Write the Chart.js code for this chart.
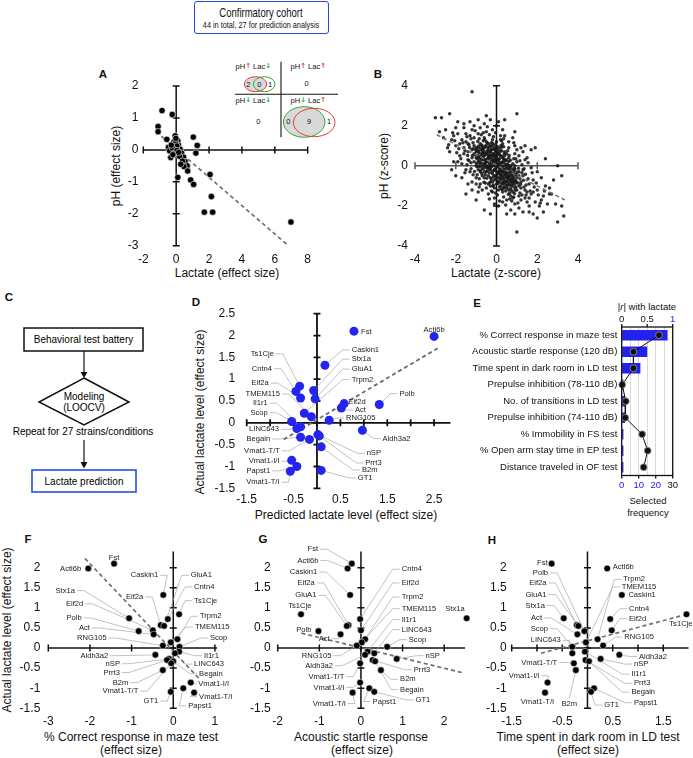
<!DOCTYPE html>
<html><head><meta charset="utf-8">
<script src="https://cdn.jsdelivr.net/npm/chart.js@4.4.1/dist/chart.umd.min.js"></script>
<style>
body{margin:0;background:#fff;width:693px;height:758px;position:relative;overflow:hidden;font-family:"Liberation Sans",Arial,sans-serif;color:#111}
canvas{position:absolute}
.t{position:absolute;white-space:nowrap;line-height:1;transform:translate(-50%,-50%);font-size:12px}
.r{transform:translate(-50%,-50%) rotate(-90deg)}
.P{font-weight:bold;font-size:11.5px}
.s{font-size:9.5px}
svg{position:absolute}
svg text{font-family:"Liberation Sans",Arial,sans-serif;text-anchor:middle;dominant-baseline:central}
svg tspan.ar{font-weight:bold;font-family:"DejaVu Sans",sans-serif;font-size:7px}
</style></head><body>

<!-- title box -->
<div style="position:absolute;left:194px;top:1px;width:133px;height:31px;border:1.6px solid #2b45e0;border-radius:3px;"></div>
<div class="t" style="left:261px;top:12px;font-size:13px;transform:translate(-50%,-50%) scaleX(0.73)">Confirmatory cohort</div>
<div class="t" style="left:261px;top:25px;font-size:9px;transform:translate(-50%,-50%) scaleX(0.81)">44 in total, 27 for prediction analysis</div>

<!-- panel letters -->
<div class="t P" style="left:103px;top:75px">A</div>
<div class="t P" style="left:378px;top:75px">B</div>
<div class="t P" style="left:9px;top:298px">C</div>
<div class="t P" style="left:196px;top:303px">D</div>
<div class="t P" style="left:477px;top:304px">E</div>
<div class="t P" style="left:28px;top:540px">F</div>
<div class="t P" style="left:263px;top:540px">G</div>
<div class="t P" style="left:492px;top:541px">H</div>

<!-- axis titles -->
<div class="t" style="left:227px;top:273px">Lactate (effect size)</div>
<div class="t r" style="left:116px;top:166px">pH (effect size)</div>
<div class="t" style="left:496px;top:273px">Lactate (z-score)</div>
<div class="t r" style="left:384px;top:166px">pH (z-score)</div>
<div class="t" style="left:346px;top:515px">Predicted lactate level (effect size)</div>
<div class="t r" style="left:200px;top:412px">Actual lactate level (effect size)</div>
<div class="t s" style="left:647px;top:307px">|<i>r</i>| with lactate</div>
<div class="t s" style="left:648px;top:501px">Selected</div>
<div class="t s" style="left:648px;top:512.5px">frequency</div>
<div class="t r" style="left:7px;top:630px">Actual lactate level (effect size)</div>
<div class="t" style="left:131px;top:737px">% Correct response in maze test</div>
<div class="t" style="left:131px;top:750px">(effect size)</div>
<div class="t" style="left:361px;top:737px">Acoustic startle response</div>
<div class="t" style="left:362px;top:750px">(effect size)</div>
<div class="t" style="left:588px;top:737px">Time spent in dark room in LD test</div>
<div class="t" style="left:588px;top:750px">(effect size)</div>

<!-- flowchart C -->
<svg style="left:0;top:290px" width="190" height="210">
  <rect x="24" y="38" width="119" height="23" fill="none" stroke="#111" stroke-width="1.5"/>
  <text x="83.5" y="49.5" font-size="10">Behavioral test battery</text>
  <line x1="84" y1="61" x2="84" y2="83" stroke="#111" stroke-width="1.2"/>
  <polygon points="80.5,82 87.5,82 84,88" fill="#111"/>
  <polygon points="84,88 129,112 84,135 39,112" fill="none" stroke="#111" stroke-width="1.5"/>
  <text x="84" y="106" font-size="10">Modeling</text>
  <text x="84" y="117" font-size="10">(LOOCV)</text>
  <text x="83" y="141" font-size="10">Repeat for 27 strains/conditions</text>
  <line x1="84" y1="150" x2="84" y2="173" stroke="#111" stroke-width="1.2"/>
  <polygon points="80.5,172 87.5,172 84,178.5" fill="#111"/>
  <rect x="32" y="180" width="104" height="22" fill="none" stroke="#2a4de0" stroke-width="1.6"/>
  <text x="84" y="191" font-size="10">Lactate prediction</text>
</svg>

<!-- inset of A -->
<svg style="left:230px;top:58px" width="112" height="84">
  <ellipse cx="25.5" cy="26.2" rx="11.2" ry="7.5" fill="#d9d9d9" stroke="#e53935" stroke-width="1"/>
  <ellipse cx="34.2" cy="26.2" rx="10.8" ry="7.5" fill="none" stroke="#2eaa3a" stroke-width="1"/>
  <ellipse cx="74.2" cy="64" rx="20.8" ry="15.3" fill="#d9d9d9" stroke="#2eaa3a" stroke-width="1"/>
  <ellipse cx="84.2" cy="64.5" rx="20.8" ry="14.2" fill="none" stroke="#e53935" stroke-width="1"/>
  <line x1="51" y1="3.7" x2="51" y2="79.3" stroke="#111" stroke-width="1.1"/>
  <line x1="5" y1="36.3" x2="108" y2="36.3" stroke="#111" stroke-width="1.1"/>
  <g font-size="7.5" fill="#111">
    <text x="23.3" y="8">pH<tspan class="ar" fill="#e53935">↑</tspan> Lac<tspan class="ar" fill="#2eaa3a">↓</tspan></text>
    <text x="78.3" y="8">pH<tspan class="ar" fill="#e53935">↑</tspan> Lac<tspan class="ar" fill="#e53935">↑</tspan></text>
    <text x="76.7" y="25.3">0</text>
    <text x="23.3" y="42">pH<tspan class="ar" fill="#2eaa3a">↓</tspan> Lac<tspan class="ar" fill="#2eaa3a">↓</tspan></text>
    <text x="78.3" y="42">pH<tspan class="ar" fill="#2eaa3a">↓</tspan> Lac<tspan class="ar" fill="#e53935">↑</tspan></text>
    <text x="28.3" y="63">0</text>
    <text x="18.3" y="26.2">2</text><text x="29.3" y="26.2">0</text><text x="40" y="26.2">1</text>
    <text x="58.3" y="63.5">0</text><text x="79" y="63.5">9</text><text x="99" y="63.5">1</text>
  </g>
</svg>

<script>
// ---------------- DATA ----------------
// Panel A: pH vs lactate effect sizes
const aLactate = [-0.86,-0.24,-1.10,-1.10,-0.57,-0.06,-0.14,0.10,-0.47,-0.40,-0.33,0.14,0.24,0.33,0.45,0.55,0.67,0.47,0.70,0.10,0.88,1.06,1.04,1.28,1.20,2.06,2.14,1.71,2.22,6.98,-0.04,0.04,-0.22,0.20,0.38,-0.10,0.05,-0.30,0.28,-0.02,0.15,-0.20];
const aPH      = [1.23,1.11,0.73,0.57,0.33,0.44,0.25,0.28,0.08,-0.03,-0.24,0.15,0.02,-0.10,-0.23,-0.37,-0.50,-0.52,-0.66,-0.86,-0.94,-1.08,0.40,0.14,-0.10,-0.77,-1.46,-1.95,-1.95,-2.26,0.22,0.12,0.05,-0.20,-0.35,-0.10,-0.02,0.15,-0.45,0.36,-0.08,-0.15];
const aFitX = [-1.22, 6.78], aFitY = [0.57, -2.98];

// Panel B: individual z-scores (lactate, pH)
const bPoints = [
[-0.1,0.3],[0.2,-0.1],[-0.4,0.5],[0.5,-0.3],[0.0,0.0],[-0.7,0.6],[0.8,-0.6],[0.3,0.4],[-0.2,-0.4],[0.6,0.2],
[-0.5,-0.1],[0.1,0.8],[-0.9,0.2],[0.9,-0.2],[0.4,-0.8],[-0.3,1.0],[0.2,-1.0],[-0.6,0.9],[0.7,-1.1],[-1.0,0.7],
[1.1,-0.5],[-0.1,-0.7],[0.0,1.2],[-0.8,-0.3],[0.5,0.6],[-0.4,-0.9],[0.3,1.1],[-1.1,1.0],[1.0,-1.2],[0.1,0.1],
[-0.2,0.6],[0.4,0.0],[-0.6,0.1],[0.6,-0.5],[-0.3,-0.2],[0.2,0.5],[-0.5,0.3],[0.8,0.1],[-0.7,-0.5],[0.0,-0.3],
[0.3,-0.5],[-0.1,0.9],[0.5,-1.0],[-0.8,1.1],[0.9,-0.9],[-0.4,0.2],[0.1,-0.6],[-0.9,0.5],[0.7,-0.3],[-0.2,1.3],
[0.4,0.7],[-0.6,-0.6],[0.6,0.4],[-1.2,0.4],[1.2,-0.8],[0.0,0.5],[-0.3,0.7],[0.2,-0.3],[-0.7,0.3],[0.8,-0.8],
[-0.1,-1.1],[0.5,-0.6],[-0.5,1.2],[0.3,-1.3],[-1.0,0.0],[1.0,0.2],[-0.4,-0.5],[0.1,0.3],[-0.2,0.0],[0.6,-0.9],
[-0.8,0.8],[0.9,-0.4],[-0.3,0.4],[0.4,-0.2],[0.0,-0.9],[-0.6,0.5],[0.7,-0.7],[-0.1,0.2],[0.2,0.9],[-0.9,-0.2],
[1.1,-1.0],[-1.1,0.6],[0.3,0.2],[-0.4,0.8],[0.5,-0.1],[-0.2,-0.8],[0.8,-1.3],[-0.7,1.0],[0.1,-0.4],[-0.5,-0.3],
[0.0,0.7],[0.6,-1.2],[-0.3,-0.6],[0.4,0.5],[-0.8,0.0],[0.9,-0.7],[-1.0,0.9],[0.2,-0.7],[-0.1,0.5],[0.3,-0.9],
[-0.6,0.7],[0.7,0.0],[-0.4,0.0],[0.5,0.3],[-0.2,1.0],[0.1,-1.2],[-0.9,0.9],[1.0,-0.6],[-0.5,0.6],[0.6,-0.2],
[-0.3,0.1],[0.4,-1.1],[0.0,0.3],[-0.7,-0.1],[0.8,-0.4],[-0.1,-0.2],[0.2,0.1],[-1.2,0.8],[1.2,-1.1],[-0.4,1.1],
[0.3,-0.1],[-0.8,0.4],[0.9,-1.1],[0.0,-0.5],[-0.6,-0.3],[0.7,-0.5],[-0.2,0.8],[0.5,-0.8],[-1.0,0.4],[0.1,0.6],
[-0.5,0.0],[0.6,0.0],[-0.3,-1.0],[0.4,0.3],[-0.7,0.8],[0.8,-1.0],[-0.1,0.0],[0.2,-0.5],[-0.9,0.7],[1.1,-0.3],
[-0.4,0.4],[0.3,-0.6],[0.0,0.9],[-0.6,0.3],[0.5,-0.4],[-0.2,-0.3],[0.9,0.0],[-1.1,0.2],[0.1,-0.8],[-0.3,0.5],
[-1.5,1.2],[1.5,-1.3],[-1.3,1.5],[1.4,-1.6],[-1.6,0.9],[1.6,-0.9],[-1.4,0.3],[1.3,-0.2],[-1.2,1.8],[1.2,-1.7],
[-0.9,1.6],[0.8,-1.6],[-0.5,1.7],[0.5,-1.7],[-0.2,1.8],[0.3,-1.8],[0.2,1.5],[-0.1,-1.6],[0.6,1.2],[-0.7,-1.2],
[0.9,0.6],[-1.0,-0.6],[1.3,-0.5],[-1.4,0.7],[1.7,-1.4],[-1.7,1.3],[1.8,-0.7],[-1.8,0.5],[1.4,0.3],[-1.3,-0.3],
[-2.0,1.0],[2.0,-1.2],[-1.9,1.6],[1.9,-1.8],[-1.6,1.9],[1.6,-2.0],[-1.1,2.0],[1.1,-2.1],[-0.6,2.1],[0.7,-2.2],
[0.0,2.0],[0.1,-2.0],[-2.2,1.3],[2.3,-1.5],[-2.3,0.7],[2.2,-0.6],[-2.1,0.2],[2.1,-2.0],[-1.5,-0.2],[1.5,0.4],
[-0.8,-0.9],[0.9,1.0],[-1.2,-0.8],[1.0,0.8],[-0.4,-1.4],[0.4,1.5],[-0.9,-1.3],[0.3,1.8],[-1.7,0.1],[1.7,-0.1],
[-1.3,2.2],[1.3,-2.3],[-2.5,1.8],[2.5,-1.9],[-2.4,0.9],[2.4,-1.0],[-1.9,2.2],[1.8,-2.4],[-0.3,2.3],[0.5,-2.4],
[-1.6,0.6],[1.6,-1.6],[-1.4,1.1],[1.4,-1.2],[-1.8,1.1],[1.8,-1.3],[-1.5,1.6],[1.5,-1.8],[-1.1,1.4],[1.1,-1.5],
[-0.8,1.9],[0.9,-1.9],[-0.5,-1.1],[0.6,0.9],[-1.0,-0.9],[1.1,0.5],[-0.2,-1.3],[0.2,1.3],[-0.6,1.4],[0.7,-1.5],
[-2.6,1.4],[2.6,-1.4],[-2.0,1.9],[2.0,-0.3],[-2.2,-0.2],[2.3,-2.3],[-1.7,-0.6],[1.2,0.9],[-1.2,-1.2],[0.8,1.4],
[-0.1,-1.9],[0.1,2.2],[-1.4,-0.9],[1.3,0.7],[-2.1,1.5],[2.2,-1.7],[-0.9,2.3],[0.9,-2.4],[-1.6,2.1],[1.6,-2.3],
[-1.2,3.7],[1.0,2.6],[-2.7,2.4],[-2.3,2.6],[1.9,0.9],[2.4,0.35],[3.0,0.0],[3.2,-0.5],[2.6,-1.1],[2.7,-1.4],
[3.2,-2.0],[3.3,-2.5],[3.0,-2.8],[1.0,-3.3],[-0.3,-2.4],[-1.9,0.2],[-3.0,2.4],[-2.8,1.7],[-0.5,2.5],[0.4,2.3],
[2.9,-1.9],[2.0,-2.6],[-1.0,-1.7],[-0.6,-2.2],[1.4,1.0],[0.9,1.7],[-2.0,-0.5],[2.8,-0.7],[-1.5,-1.4],[1.7,0.8],
[-0.15,0.45],[0.25,-0.25],[-0.35,0.15],[0.45,-0.45],[-0.05,-0.15],[0.35,0.15],[-0.45,0.65],[0.55,-0.65],[-0.65,0.45],[0.65,-0.35],
[-0.25,-0.05],[0.15,0.35],[-0.75,0.15],[0.75,-0.15],[-0.55,-0.45],[0.05,0.65],[-0.85,0.65],[0.85,-0.55],[-0.35,0.95],[0.25,-0.85],
[-0.05,0.35],[0.15,-0.15],[-0.25,0.25],[0.35,-0.35],[-0.45,-0.25],[0.45,0.25],[-0.65,0.85],[0.55,-0.95],[-0.15,-0.55],[0.05,-0.05],
[-0.95,0.35],[0.95,-0.45],[-0.55,0.55],[0.65,-0.75],[-0.35,-0.35],[0.25,0.75],[-0.75,1.05],[0.75,-0.95],[-0.05,1.05],[0.15,-1.05],
[-1.05,0.55],[1.05,-0.85],[-0.15,0.15],[0.35,-0.65],[-0.45,0.35],[0.45,-0.15],[-0.25,0.85],[0.25,0.15],[-0.65,-0.15],[0.55,0.05],
[-0.85,0.25],[0.85,-0.25],[-0.35,0.55],[0.05,-0.35],[-0.05,0.75],[0.35,-1.05],[-1.15,0.85],[1.15,-0.65],[-0.55,0.95],[0.65,-0.05],
[-0.25,-0.65],[0.15,0.55],[-0.75,0.55],[0.75,-0.65],[-0.45,1.15],[0.45,-1.25],[-0.95,-0.05],[0.95,-1.05],[-0.15,-0.95],[0.05,0.95],
[-0.35,-0.85],[0.35,0.95],[-0.65,1.25],[0.65,-1.35],[-1.25,0.15],[1.25,-0.35],[-0.05,-1.35],[0.25,1.25],[-0.85,-0.65],[0.85,0.35],
[-0.12,0.62],[0.22,-0.42],[-0.48,0.22],[0.52,-0.22],[-0.02,0.18],[0.38,-0.72],[-0.68,0.72],[0.72,-0.82],[-0.32,-0.12],[0.12,0.22],
[-0.88,0.42],[0.88,-0.12],[-0.58,-0.02],[0.58,-0.52],[-0.22,0.32],[0.28,0.48],[-0.42,0.92],[0.42,-0.92],[-0.78,-0.22],[0.18,-0.62],
[-1.02,0.82],[1.02,-0.32],[-0.08,-0.48],[0.32,-0.28],[-0.62,0.62],[0.62,-0.62],[-0.18,1.12],[0.08,-0.88],[-0.92,1.22],[0.92,-1.22],
[-0.38,0.38],[0.48,0.08],[-0.72,-0.38],[0.02,0.42],[-0.28,-0.78],[0.68,0.28],[-1.18,0.52],[1.18,-0.92],[-0.52,1.02],[0.52,-1.12],
[-0.02,-0.62],[0.38,0.62],[-0.82,0.12],[0.82,-0.72],[-0.48,-0.62],[0.22,1.02],[-0.12,-0.22],[0.12,-0.32],[-0.62,0.32],[0.42,-0.42],
[-1.32,0.92],[1.32,-0.72],[-0.98,0.12],[0.98,-0.82],[-0.22,0.52],[0.28,-1.18],[-0.58,1.32],[0.58,-1.42],[-0.08,0.82],[0.08,0.02],
[-0.42,-0.08],[0.62,-0.12],[-0.72,0.92],[0.72,-1.22],[-0.32,0.72],[0.32,-0.82],[-1.08,-0.28],[1.08,-0.12],[-0.18,-1.02],[0.18,0.72],
[-0.88,0.98],[0.88,-1.38],[-0.52,0.18],[0.52,-0.78],[-0.28,0.02],[0.28,-0.02],[-0.62,-0.82],[0.62,0.52],[-1.42,0.52],[1.42,-0.42],
[-0.05,0.55],[0.05,-0.75],[-0.45,0.75],[0.45,-0.55],[-0.75,0.35],[0.75,-0.45],[-0.25,1.15],[0.25,-1.15],[-0.95,0.75],[0.95,-0.75],
[-0.15,0.25],[0.15,-0.25],[-0.55,0.15],[0.55,-0.35],[-0.35,-0.15],[0.35,0.35],[-0.65,0.05],[0.65,-0.95],[-0.85,-0.05],[0.85,-0.85],
[-1.35,1.05],[1.35,-1.05],[-1.25,1.35],[1.25,-1.45],[-1.55,0.75],[1.55,-0.65],[-1.45,1.45],[1.45,-1.45],[-1.15,-0.45],[1.15,0.25],
[-0.75,1.55],[0.75,-1.75],[-0.35,1.55],[0.35,-1.55],[-0.05,1.65],[0.05,-1.45],[-1.65,1.15],[1.65,-1.25],[-1.85,0.85],[1.85,-1.05],
[-0.55,-0.85],[0.55,0.75],[-0.95,-0.45],[0.95,0.35],[-0.25,-1.25],[0.25,0.95],[-1.25,-0.15],[1.25,0.05],[-0.65,1.65],[0.65,-1.65],
[-1.75,0.35],[1.75,-0.35],[-2.05,1.25],[2.05,-1.45],[-1.95,0.65],[1.95,-0.85],[-1.05,1.75],[1.05,-1.85],[-0.45,1.95],[0.45,-1.95],
[-1.55,-0.35],[1.55,0.15],[-0.85,-1.05],[0.85,1.15],[-1.35,0.25],[1.35,-0.15],[-0.15,1.45],[0.15,-1.75],[-1.15,1.15],[1.15,-1.35],
[-2.35,1.05],[2.35,-1.25],[-2.15,1.65],[2.15,-1.85],[-0.85,1.35],[0.85,-1.55],[-1.45,0.05],[1.45,-0.95],[-0.35,-1.65],[0.35,1.35]
];
const bFitX = [-2.93, 3.35], bFitY = [1.55, -1.70];

// Panels D, F, G, H: the 27 strains/conditions
const strains = ['Fst','Actl6b','Caskin1','Ts1Cje','Stx1a','Cntn4','Eif2a','GluA1','Eif2d','Polb','Act','Trpm2','TMEM115','RNG105','Scop','Il1r1','LINC643','Aldh3a2','nSP','Prrt3','Begain','Vmat1-T/T','B2m','Vmat1-I/I','Papst1','GT1','Vmat1-T/I'];
const actualLactate    = [2.10,1.98,1.32,0.84,0.74,0.72,0.57,0.55,0.44,0.42,0.34,0.22,0.14,0.06,0.03,-0.09,-0.13,-0.17,-0.27,-0.30,-0.33,-0.38,-0.55,-0.86,-1.00,-1.09,-1.11];
const predictedLactate = [0.79,2.50,0.17,-0.37,-0.07,-0.45,-0.35,-0.04,0.58,1.33,0.52,-0.27,-0.12,0.26,-0.54,-0.35,-0.43,0.97,0.02,0.05,-0.35,-0.16,0.09,-0.54,-0.43,0.09,-0.57];
const mazeEffect       = [-1.42,-2.04,-0.24,0.14,-1.06,-0.13,-0.30,-0.22,-0.49,-0.83,-0.47,0.10,-0.06,-0.25,0.15,0.14,0.04,-0.43,-0.10,-0.15,0.00,-0.05,-0.25,0.42,0.24,-0.06,0.50];
const startleEffect    = [-0.22,-0.32,-0.26,-1.44,2.54,-0.02,-0.30,-0.34,0.00,-1.02,-0.49,0.10,0.02,-0.10,0.63,0.16,0.32,0.10,0.86,0.28,0.34,-0.02,0.48,-0.02,0.20,0.32,-0.20];
const darkRoomEffect   = [-0.71,0.39,0.68,1.96,-0.47,0.45,-0.21,-0.18,0.48,-0.06,-0.20,0.20,-0.03,0.31,-0.30,-0.05,-0.30,0.63,0.26,-0.04,0.03,-0.27,-0.23,-0.79,0.13,0.07,-0.84];
const dFitX = [-0.71, 2.61], dFitY = [-0.38, 1.73];
const fFitX = [-2.12, 0.64], fFitY = [2.23, -0.78];
const gFitX = [-1.43, 2.42], gFitY = [0.37, -0.61];
const hFitX = [-0.92, 2.00], hFitY = [-0.13, 0.85];

// Panel E
const eFeatures = ['% Correct response in maze test','Acoustic startle response (120 dB)','Time spent in dark room in LD test','Prepulse inhibition (78-110 dB)','No. of transitions in LD test','Prepulse inhibition (74-110 dB)','% Immobility in FS test','% Open arm stay time in EP test','Distance traveled in OF test'];
const eSelectedFreq = [27,15,11,1,2,2,1,1,1];
const eAbsR = [0.73,0.23,0.23,0.01,0.08,0.07,0.40,0.51,0.43];

// tick values
const aXTicks=[-2,0,2,4,6,8], aYTicks=[-3,-2,-1,0,1,2];
const bXTicks=[-4,-2,0,2,4], bYTicks=[-4,-2,0,2,4];
const dXTicks=[-1.5,-1,-0.5,0,0.5,1,1.5,2,2.5], dYTicks=[-1.5,-1,-0.5,0,0.5,1,1.5,2,2.5];
const fXTicks=[-3,-2,-1,0,1], gXTicks=[-2,-1,0,1,2], hXTicks=[-1.5,-1,-0.5,0,0.5,1,1.5];
const lacYTicks=[-1.5,-1,-0.5,0,0.5,1,1.5,2];

// ---------------- label placement (layout, in data units) ----------------
const dLab = {x:[0.94,2.50,0.74,-0.92,0.74,-0.96,-1.03,0.74,0.67,1.76,0.81,0.74,-0.79,0.62,-1.05,-1.05,-0.81,1.40,1.06,1.03,-1.00,-0.79,0.96,-0.80,-1.00,0.87,-0.80],
 y:[2.09,2.12,1.67,1.58,1.46,1.24,0.91,1.23,0.47,0.67,0.29,0.99,0.66,0.11,0.23,0.45,-0.15,-0.36,-0.70,-0.92,-0.37,-0.64,-1.08,-0.88,-1.10,-1.26,-1.36],
 t:['E','C','L','R','L','R','R','L','E','L','L','L','R','L','R','R','R','L','L','L','R','R','L','R','R','L','R']};
const fLab = {x:[-1.42,-2.21,-0.36,0.50,-2.36,0.50,-0.72,0.42,-2.16,-2.20,-2.00,0.64,0.52,-1.60,0.88,0.74,0.50,-1.56,-1.28,-1.28,0.62,-0.84,-1.08,0.60,0.36,-0.36,0.62],
 y:[2.25,1.96,1.81,1.18,1.43,1.52,1.27,1.81,1.10,0.75,0.50,0.79,0.52,0.25,0.25,-0.19,-0.40,-0.19,-0.39,-0.61,-0.64,-1.07,-0.86,-0.89,-1.44,-1.32,-1.21],
 t:['C','W','R','L','R','L','R','L','R','R','R','L','L','R','L','L','L','R','R','R','L','R','R','L','L','R','L']};
const gLab = {x:[-1.03,-1.02,-1.05,-1.47,2.26,0.98,-1.11,-1.07,0.98,-1.19,-0.75,0.98,0.98,-0.71,1.15,0.98,0.98,-0.67,1.55,1.27,0.94,-0.40,0.94,-0.40,0.28,1.31,-0.36],
 y:[2.46,2.18,1.89,1.06,0.97,1.96,1.62,1.31,1.62,0.46,0.23,1.27,0.98,-0.19,0.21,0.71,0.46,-0.44,-0.19,-0.54,-1.03,-0.71,-0.78,-0.98,-1.33,-1.29,-1.38],
 t:['R','R','R','C','C','L','R','R','L','W','R','L','L','R','L','L','L','R','L','L','L','R','L','R','L','L','R']};
const hLab = {x:[-0.79,0.50,0.81,1.85,-0.84,0.82,-0.81,-0.81,0.82,-0.78,-0.90,0.71,0.68,0.73,-0.78,0.87,-0.53,1.02,0.92,0.92,0.87,-0.60,-0.36,-0.95,0.92,0.33,-0.66],
 y:[2.12,2.02,1.31,0.61,1.06,0.98,1.62,1.33,0.73,1.87,0.75,1.71,1.52,0.27,0.48,-0.65,0.19,-0.21,-0.40,-0.88,-1.10,-0.36,-1.38,-0.69,-1.36,-1.42,-1.33],
 t:['W','E','E','C','R','L','R','R','L','R','R','L','L','L','R','L','R','L','L','L','L','R','CU','R','L','L','W']};

// ---------------- helpers ----------------
Chart.defaults.font.family = '"Liberation Sans", Arial, sans-serif';
Chart.defaults.color = '#111';

function mkCanvas(L,T,W,H){const c=document.createElement('canvas');c.width=W;c.height=H;c.style.left=L+'px';c.style.top=T+'px';c.style.width=W+'px';c.style.height=H+'px';document.body.appendChild(c);return c;}
function fmt(v){return String(v);}
function odd(v){return Math.abs(Math.round(v*2))%2===1?String(v):'';}

function crossChart(cfg){
  const [L,T,W,H]=cfg.box,[l,t,r,b]=cfg.area;
  const c=mkCanvas(L,T,W,H);
  const cross={id:'cross'+Math.random(),beforeDatasetsDraw(ch){
    const ctx=ch.ctx,x=ch.scales.x,y=ch.scales.y;
    const x0=x.getPixelForValue(0),y0=y.getPixelForValue(0),tk=3.5;
    ctx.save();ctx.lineWidth=cfg.axW||1.5;ctx.lineCap='butt';
    ctx.strokeStyle=cfg.xColor||'#111';ctx.beginPath();
    ctx.moveTo(x.getPixelForValue(x.min),y0);ctx.lineTo(x.getPixelForValue(x.max),y0);
    cfg.xTicks.forEach(v=>{const p=x.getPixelForValue(v);ctx.moveTo(p,y0-tk);ctx.lineTo(p,y0+tk);});
    ctx.stroke();
    ctx.strokeStyle='#111';ctx.beginPath();
    ctx.moveTo(x0,y.getPixelForValue(y.min));ctx.lineTo(x0,y.getPixelForValue(y.max));
    cfg.yTicks.forEach(v=>{const p=y.getPixelForValue(v);ctx.moveTo(x0-tk,p);ctx.lineTo(x0+tk,p);});
    ctx.stroke();
    const lb=cfg.lab;
    if(lb){
      ctx.strokeStyle='#a8a8a8';ctx.lineWidth=0.7;
      strains.forEach((n,i)=>{
        const tp=lb.t[i];
        const px=x.getPixelForValue(cfg.px[i]),py=y.getPixelForValue(actualLactate[i]);
        const ax=x.getPixelForValue(lb.x[i]),ay=y.getPixelForValue(lb.y[i]);
        ctx.beginPath();
        if(tp==='R'||tp==='L'){const s=tp==='R'?1:-1;ctx.moveTo(ax+2*s,ay);ctx.lineTo(ax+9*s,ay);ctx.lineTo(px,py);ctx.stroke();}
        else if(tp==='CU'){ctx.moveTo(ax,ay-5);ctx.lineTo(px,py);ctx.stroke();}
      });
    }
    ctx.restore();
  },afterDatasetsDraw(ch){
    const lb=cfg.lab;if(!lb)return;
    const ctx=ch.ctx,x=ch.scales.x,y=ch.scales.y;
    ctx.save();ctx.font='7.6px "Liberation Sans", Arial, sans-serif';ctx.textBaseline='middle';ctx.fillStyle='#1a1a1a';
    strains.forEach((n,i)=>{
      const tp=lb.t[i];const ax=x.getPixelForValue(lb.x[i]),ay=y.getPixelForValue(lb.y[i]);
      ctx.textAlign=(tp==='R'||tp==='W')?'right':((tp==='C'||tp==='CU')?'center':'left');
      ctx.fillText(n,ax,ay);
    });
    ctx.restore();
  }};
  return new Chart(c,{type:'scatter',data:{datasets:cfg.datasets},
    options:{responsive:false,animation:false,devicePixelRatio:1,events:[],
      layout:{padding:{left:0,top:t-T,right:L+W-r,bottom:0}},
      plugins:{legend:{display:false},tooltip:{enabled:false}},
      scales:{
        x:{type:'linear',min:cfg.xr[0],max:cfg.xr[1],grid:{display:false,drawTicks:false},border:{display:false},
          afterBuildTicks:s=>{s.ticks=cfg.xTicks.map(v=>({value:v}));},
          afterFit:s=>{s.height=T+H-b;},
          ticks:{padding:cfg.xPad,autoSkip:false,maxRotation:0,minRotation:0,font:{size:12},color:'#111',callback:v=>cfg.xFmt(v)}},
        y:{type:'linear',min:cfg.yr[0],max:cfg.yr[1],grid:{display:false,drawTicks:false},border:{display:false},
          afterBuildTicks:s=>{s.ticks=cfg.yTicks.map(v=>({value:v}));},
          afterFit:s=>{s.width=l-L;},
          ticks:{padding:cfg.yPad,autoSkip:false,font:{size:12},color:'#111',callback:v=>fmt(v)}}
      }},
    plugins:[cross]});
}
function pts(xs,ys){return xs.map((v,i)=>({x:v,y:ys[i]}));}
function fitDs(xs,ys,w){return {data:pts(xs,ys),showLine:true,pointRadius:0,borderColor:'#707070',borderWidth:w||1.7,borderDash:[4,3],clip:false};}

// ---------------- A ----------------
crossChart({box:[95,60,240,225],area:[143.3,86,307.7,245.7],xr:[-2,8],yr:[-3,2],xTicks:aXTicks,yTicks:aYTicks,xFmt:fmt,xPad:7,yPad:5,
  datasets:[{data:pts(aLactate,aPH),pointRadius:3.2,backgroundColor:'#000',borderColor:'#ffffff',borderWidth:0.6,clip:false},fitDs(aFitX,aFitY)]});

// ---------------- B ----------------
crossChart({box:[370,60,230,225],area:[415,85.7,578,246],xr:[-4,4],yr:[-4,4],xTicks:bXTicks,yTicks:bYTicks,xFmt:fmt,xPad:6,yPad:7,xColor:'#555',
  datasets:[fitDs(bFitX,bFitY,1.5),{data:bPoints.map(p=>({x:p[0],y:p[1]})),pointRadius:1.75,backgroundColor:'rgba(25,25,25,0.88)',borderWidth:0,clip:false}]});

// ---------------- D ----------------
crossChart({box:[190,295,265,235],area:[246.7,306,450.7,488.3],xr:[-1.5,2.85],yr:[-1.5,2.5],xTicks:dXTicks,yTicks:dYTicks,xFmt:odd,xPad:4.5,yPad:11.5,axW:1.8,
  px:predictedLactate,lab:dLab,
  datasets:[{data:pts(predictedLactate,actualLactate),pointRadius:4.5,backgroundColor:'#2424f0',borderWidth:0,clip:false},fitDs(dFitX,dFitY,1.9)]});

// ---------------- F ----------------
crossChart({box:[0,530,240,228],area:[48.3,551.6,217,708.3],xr:[-3,1.05],yr:[-1.5,2.4],xTicks:fXTicks,yTicks:lacYTicks,xFmt:fmt,xPad:6,yPad:8,
  px:mazeEffect,lab:fLab,
  datasets:[{data:pts(mazeEffect,actualLactate),pointRadius:3.3,backgroundColor:'#000',borderColor:'#fff',borderWidth:0.5,clip:false},fitDs(fFitX,fFitY)]});

// ---------------- G ----------------
crossChart({box:[230,530,245,228],area:[277.7,551.6,465,708.3],xr:[-2,2.5],yr:[-1.5,2.4],xTicks:gXTicks,yTicks:lacYTicks,xFmt:fmt,xPad:6,yPad:7,
  px:startleEffect,lab:gLab,
  datasets:[{data:pts(startleEffect,actualLactate),pointRadius:3.3,backgroundColor:'#000',borderColor:'#fff',borderWidth:0.5,clip:false},fitDs(gFitX,gFitY)]});

// ---------------- H ----------------
crossChart({box:[460,530,233,228],area:[511.7,551.6,690.5,708.3],xr:[-1.5,2.0],yr:[-1.5,2.4],xTicks:hXTicks,yTicks:lacYTicks,xFmt:odd,xPad:6,yPad:5,
  px:darkRoomEffect,lab:hLab,
  datasets:[{data:pts(darkRoomEffect,actualLactate),pointRadius:3.3,backgroundColor:'#000',borderColor:'#fff',borderWidth:0.5,clip:false},fitDs(hFitX,hFitY)]});

// ---------------- E ----------------
(function(){
  const L=465,T=300,W=228,H=220,l=621.7,t=327,r=672.7,b=475.5;
  const c=mkCanvas(L,T,W,H);
  const frame={id:'frameE',afterDatasetsDraw(ch){
    const ctx=ch.ctx,a=ch.chartArea,x=ch.scales.x,x2=ch.scales.x2;
    ctx.save();ctx.strokeStyle='#111';ctx.lineWidth=1.3;
    ctx.strokeRect(a.left,a.top,a.right-a.left,a.bottom-a.top);
    ctx.beginPath();
    [0,0.5,1].forEach(v=>{const p=x2.getPixelForValue(v);ctx.moveTo(p,a.top);ctx.lineTo(p,a.top-3);});
    [0,10,20,30].forEach(v=>{const p=x.getPixelForValue(v);ctx.moveTo(p,a.bottom);ctx.lineTo(p,a.bottom+3);});
    ctx.stroke();ctx.restore();
  }};
  new Chart(c,{type:'bar',
    data:{labels:eFeatures,datasets:[
      {type:'line',data:eAbsR,xAxisID:'x2',yAxisID:'y',indexAxis:'y',borderColor:'#111',borderWidth:1,pointRadius:3.4,pointBackgroundColor:'#111',pointBorderColor:'#9a9a9a',pointBorderWidth:0.8,order:0,clip:false},
      {type:'bar',data:eSelectedFreq,xAxisID:'x',yAxisID:'y',backgroundColor:'#2222ee',barPercentage:0.64,categoryPercentage:1,order:1}
    ]},
    options:{indexAxis:'y',responsive:false,animation:false,devicePixelRatio:1,events:[],
      layout:{padding:{left:0,top:0,right:L+W-r,bottom:0}},
      plugins:{legend:{display:false},tooltip:{enabled:false}},
      scales:{
        x:{type:'linear',position:'bottom',min:0,max:30,border:{display:false},
          grid:{display:true,drawTicks:false,color:'#cfcfcf',lineWidth:0.8},
          afterBuildTicks:s=>{s.ticks=[0,5,10,15,20,25,30].map(v=>({value:v}));},
          afterFit:s=>{s.height=T+H-b;},
          ticks:{padding:4.3,font:{size:9.5},autoSkip:false,maxRotation:0,callback:v=>(v%10===0?String(v):''),
            color:ctx=>(ctx.tick&&ctx.tick.value===30)?'#111':'#2222ee'}},
        x2:{type:'linear',position:'top',min:0,max:1,border:{display:false},grid:{display:false,drawTicks:false},
          afterBuildTicks:s=>{s.ticks=[0,0.5,1].map(v=>({value:v}));},
          afterFit:s=>{s.height=t-T;},
          ticks:{padding:2.3,font:{size:9.5},autoSkip:false,maxRotation:0,callback:v=>String(v),
            color:ctx=>(ctx.tick&&ctx.tick.value===1)?'#2222ee':'#111'}},
        y:{type:'category',grid:{display:false,drawTicks:false},border:{display:false},
          afterFit:s=>{s.width=l-L;},
          ticks:{padding:4.4,font:{size:9.5},color:'#111',autoSkip:false}}
      }},
    plugins:[frame]});
})();
</script>
</body></html>
